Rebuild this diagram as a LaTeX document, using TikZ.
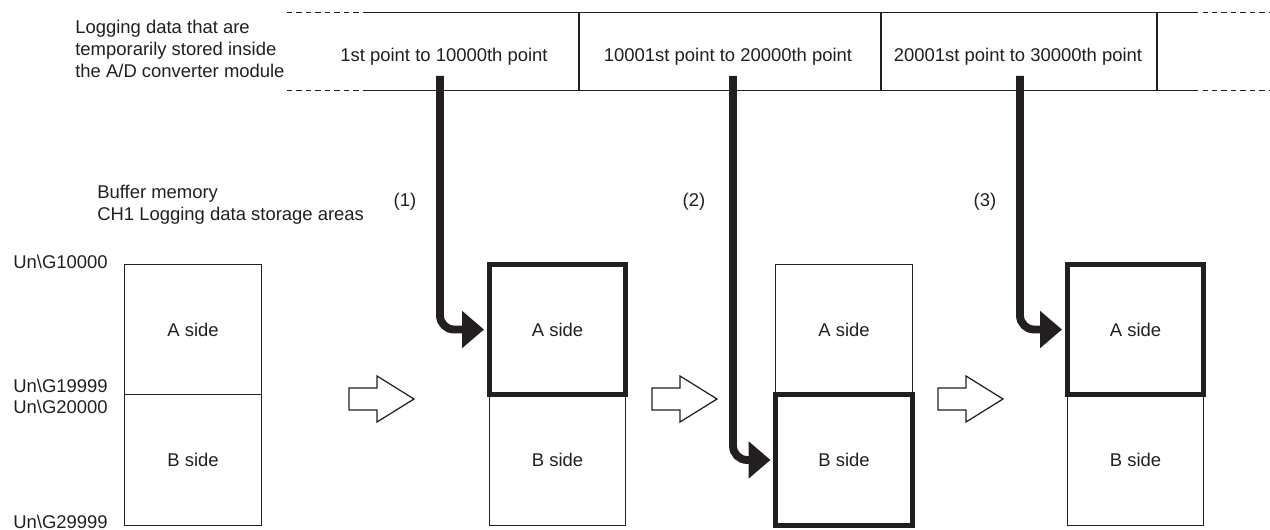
\documentclass[tikz,border=0pt]{standalone}
\usepackage{fontspec}
\setmainfont{Liberation Sans}
\usetikzlibrary{arrows.meta,positioning}
\definecolor{Tinta}{HTML}{231F20}

\begin{document}
\begin{tikzpicture}[
  x=0.02cm, y=-0.02cm,
  font=\fontsize{10.5}{12.5}\selectfont,
  every node/.style={text=Tinta},
  linea/.style={draw=Tinta,line width=0.7pt},
  lineagap/.style={linea,dash pattern=on 3pt off 2.4pt},
  celda/.style={draw=Tinta,line width=0.7pt,minimum width=2.73cm,minimum height=2.61cm,inner sep=0pt,outer sep=0pt},
  activa/.style={celda,line width=2.8pt},
  flujo/.style={draw=Tinta,line width=4.5pt,rounded corners=8pt,-{Triangle[length=12.5pt,width=20.5pt]},shorten >=3pt},
  paso/.style={draw=Tinta,line width=0.7pt,fill=white,line join=miter}
]
  \useasboundingbox (0,0) rectangle (1270,530);

  % Banda: datos guardados temporalmente en el modulo A/D.
  \foreach \y in {12.5,90.5} {
    \draw[lineagap] (287,\y) -- (363,\y);
    \draw[linea] (363,\y) -- (1193,\y);
    \draw[lineagap] (1193,\y) -- (1270,\y);
  }
  \foreach \x in {579,881,1157}
    \draw[linea] (\x,12.5) -- (\x,90.5);
  \node[anchor=north west,align=left,inner sep=0pt] (modulo) at (75,19.5)
    {Logging data that are\\temporarily stored inside\\the A/D converter module};
  \node[anchor=base] (tramouno) at (444,62) {1st point to 10000th point};
  \node[anchor=base] (tramodos) at (728,62) {10001st point to 20000th point};
  \node[anchor=base] (tramotres) at (1018,62) {20001st point to 30000th point};

  % Memoria intermedia: areas A y B.
  \node[anchor=north west,align=left,inner sep=0pt] (bufer) at (97,184.5)
    {Buffer memory\\CH1 Logging data storage areas};
  \node[anchor=base west,inner sep=0pt] (dirinicio) at (13,268) {Un\textbackslash G10000};
  \node[anchor=base west,inner sep=0pt] (dirfina) at (13,392) {Un\textbackslash G19999};
  \node[anchor=base west,inner sep=0pt] (dirinib) at (13,413) {Un\textbackslash G20000};
  \node[anchor=base west,inner sep=0pt] (dirfinb) at (13,528) {Un\textbackslash G29999};

  \node[celda] (auno) at (193,329.5) {A side};
  \node[celda,below=0pt of auno] (buno) {B side};
  \node[celda] (bdos) at (557.5,460) {B side};
  \node[activa,above=0pt of bdos] (ados) {A side};
  \node[celda] (atres) at (844,329.5) {A side};
  \node[activa,below=0pt of atres] (btres) {B side};
  \node[celda] (bcuatro) at (1135.5,460) {B side};
  \node[activa,above=0pt of bcuatro] (acuatro) {A side};

  % Flechas huecas entre estados.
  \foreach \x in {349,652,938}
    \draw[paso] (\x,388) -- ++(28,0) -- ++(0,-12) -- ++(37,23) -- ++(-37,23)
      -- ++(0,-12) -- ++(-28,0) -- cycle;

  % Escritura de cada tramo en su area.
  \coordinate (origenuno) at (440,76);
  \coordinate (origendos) at (733,76);
  \coordinate (origentres) at (1020,76);
  \draw[flujo] (origenuno) |- (ados.west);
  \draw[flujo] (origendos) |- (btres.west);
  \draw[flujo] (origentres) |- (acuatro.west);
  \node[anchor=base] (pasouno) at (405,207) {(1)};
  \node[anchor=base] (pasodos) at (694,207) {(2)};
  \node[anchor=base] (pasotres) at (985,207) {(3)};
\end{tikzpicture}
\end{document}
